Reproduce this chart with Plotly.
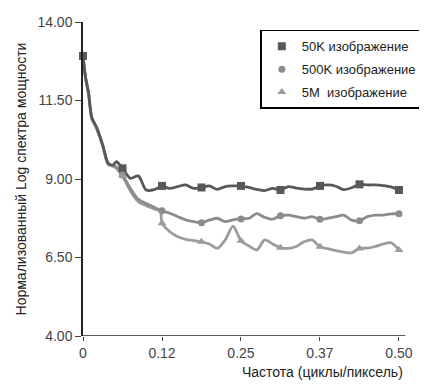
import plotly.graph_objects as go

# Frequency grid (cycles/pixel)
freq = [0, 0.004, 0.009, 0.011, 0.014, 0.021, 0.027, 0.032, 0.040, 0.048, 0.053,
        0.0625, 0.075, 0.0875, 0.1, 0.1125, 0.1225, 0.125, 0.1375, 0.15, 0.1625,
        0.175, 0.1875, 0.2, 0.2125, 0.225, 0.2375, 0.25, 0.2625, 0.275, 0.2875,
        0.3, 0.3125, 0.325, 0.3375, 0.35, 0.3625, 0.375, 0.3875, 0.4, 0.4125,
        0.425, 0.4375, 0.45, 0.4625, 0.475, 0.4875, 0.5]

val_50k = [12.92, 12.25, 11.72, 11.35, 10.95, 10.67, 10.35, 10.03, 9.50, 9.45, 9.55,
           9.34, 9.02, 9.10, 8.65, 8.66, 8.76, 8.78, 8.70, 8.76, 8.81,
           8.70, 8.73, 8.78, 8.67, 8.76, 8.78, 8.78, 8.73, 8.67, 8.63,
           8.70, 8.65, 8.76, 8.71, 8.68, 8.68, 8.78, 8.81, 8.77, 8.66,
           8.72, 8.83, 8.81, 8.81, 8.79, 8.75, 8.65]

val_500k = [12.90, 12.23, 11.70, 11.33, 10.93, 10.65, 10.33, 10.01, 9.48, 9.42, 9.38,
            9.13, 8.70, 8.35, 8.22, 8.10, 8.01, 7.99, 7.91, 7.80, 7.70,
            7.64, 7.61, 7.69, 7.75, 7.64, 7.70, 7.73, 7.75, 7.90, 7.78,
            7.72, 7.83, 7.85, 7.80, 7.75, 7.80, 7.72, 7.75, 7.80, 7.85,
            7.69, 7.67, 7.80, 7.85, 7.85, 7.89, 7.89]

val_5m = [12.88, 12.21, 11.68, 11.31, 10.91, 10.63, 10.31, 9.99, 9.46, 9.40, 9.34,
          9.10, 8.62, 8.28, 8.15, 8.05, 7.97, 7.59, 7.32, 7.16, 7.08,
          7.04, 7.00, 6.93, 6.79, 7.06, 7.50, 7.03, 6.87, 6.74, 7.06,
          6.93, 6.81, 6.79, 6.85, 7.00, 7.06, 6.84, 6.78, 6.72, 6.67,
          6.65, 6.79, 6.80, 6.85, 6.93, 6.97, 6.74]

marker_freq = [0, 0.0625, 0.125, 0.1875, 0.25, 0.3125, 0.375, 0.4375, 0.5]

x_tickvals = [0, 0.125, 0.25, 0.375, 0.5]
x_ticktext = ["0", "0.12", "0.25", "0.37", "0.50"]
y_tickvals = [4.0, 6.5, 9.0, 11.5, 14.0]
y_ticktext = ["4.00", "6.50", "9.00", "11.50", "14.00"]

series = [
    ("50K изображение", val_50k, "#585858", "square", 8),
    ("500K изображение", val_500k, "#8c8c8c", "circle", 7),
    ("5M  изображение", val_5m, "#9c9c9c", "triangle-up", 8),
]

X_MAX = 0.538    # visible x extent (legend sits over the right part)
AXIS_END = 0.51  # where the drawn x-axis line stops

fig = go.Figure()
for name, vals, color, sym, size in reversed(series):
    fig.add_trace(go.Scatter(x=freq, y=vals, mode="lines",
                             line=dict(color=color, width=2.8, shape="spline", smoothing=0.8),
                             showlegend=False, hoverinfo="skip", cliponaxis=False))
for i, (name, vals, color, sym, size) in enumerate(series):
    mx, my = [], []
    for f, v in zip(freq, vals):
        if any(abs(f - m) < 1e-9 for m in marker_freq):
            if f == 0 and i > 0:
                continue
            mx.append(f)
            my.append(v)
    fig.add_trace(go.Scatter(x=mx, y=my, mode="markers", name=name,
                             legendgroup="g%d" % i,
                             marker=dict(color=color, symbol=sym, size=size),
                             cliponaxis=False))

fig.add_shape(type="line", xref="x", yref="y", x0=0, x1=AXIS_END, y0=4, y1=4,
              line=dict(color="#222", width=1.5), layer="above")

fig.update_layout(
    width=419, height=378,
    margin=dict(l=75, r=4, t=14, b=50),
    paper_bgcolor="white", plot_bgcolor="white",
    font=dict(family="Liberation Sans, Arial, sans-serif", size=14, color="#333"),
    showlegend=True,
    legend=dict(x=0.998, y=0.975, xanchor="right", yanchor="top",
                bgcolor="white", bordercolor="black", borderwidth=1.5,
                font=dict(size=13, color="#222"), tracegroupgap=3,
                itemwidth=30),
    xaxis=dict(range=[0, X_MAX], tickvals=x_tickvals, ticktext=x_ticktext,
               showgrid=False, zeroline=False, showline=False,
               ticks="outside", ticklen=4, tickcolor="#444",
               tickfont=dict(size=14, color="#444"), automargin=False),
    yaxis=dict(range=[4, 14], tickvals=y_tickvals, ticktext=y_ticktext,
               showgrid=False, zeroline=False, showline=True, linecolor="#222",
               linewidth=1.5, ticks="outside", ticklen=6, tickcolor="#444",
               tickfont=dict(size=14, color="#444"), automargin=False,
               title=dict(text="Нормализованный Log спектра мощности",
                          font=dict(size=14, color="#222"), standoff=8)),
)
fig.add_annotation(text="Частота (циклы/пиксель)", xref="paper", yref="paper",
                   x=(AXIS_END / X_MAX), y=-0.083, xanchor="right", yanchor="top",
                   showarrow=False, font=dict(size=14, color="#222"))

fig.write_html("out.html")
